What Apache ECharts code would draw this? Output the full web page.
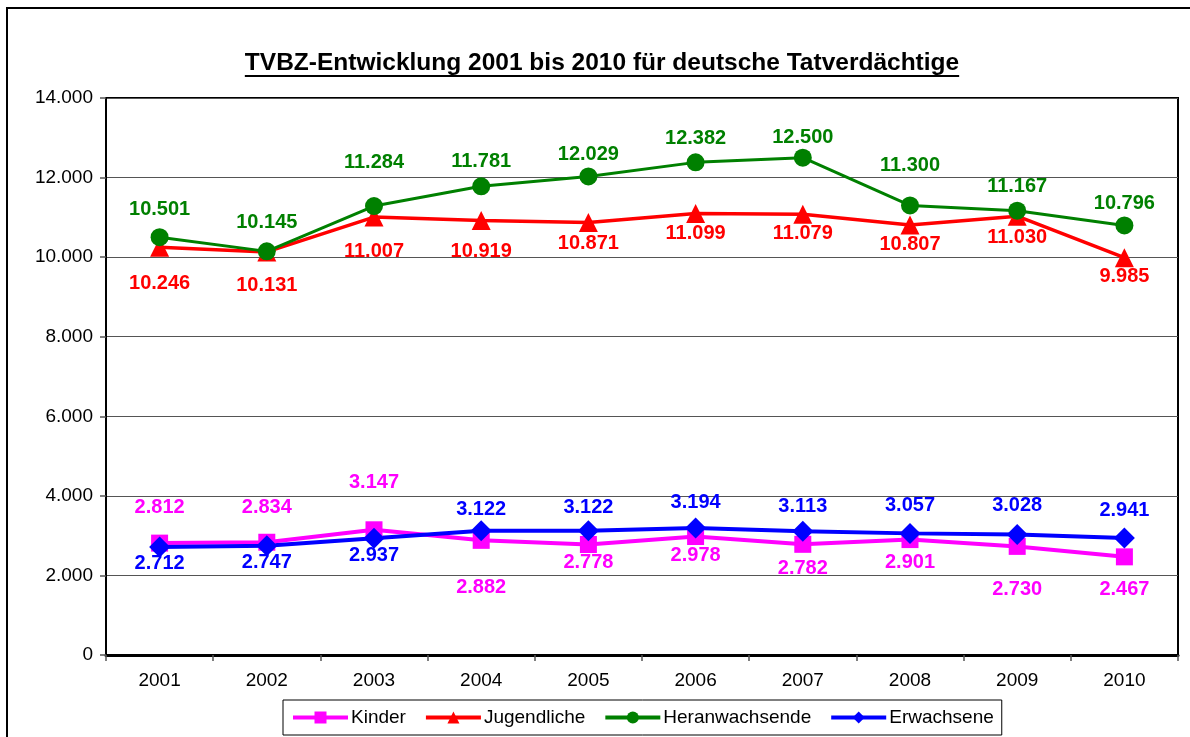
<!DOCTYPE html>
<html>
<head>
<meta charset="utf-8">
<script src="https://cdn.jsdelivr.net/npm/echarts@6/dist/echarts.min.js"></script>
<style>
html,body{margin:0;padding:0;background:#fff;}
#chart{width:1190px;height:737px;}
</style>
</head>
<body>
<div id="chart"></div>
<script>
// ---- data ----
const years = ['2001','2002','2003','2004','2005','2006','2007','2008','2009','2010'];
const kinder = [2812, 2834, 3147, 2882, 2778, 2978, 2782, 2901, 2730, 2467];
const jugendliche = [10246, 10131, 11007, 10919, 10871, 11099, 11079, 10807, 11030, 9985];
const heranwachsende = [10501, 10145, 11284, 11781, 12029, 12382, 12500, 11300, 11167, 10796];
const erwachsene = [2712, 2747, 2937, 3122, 3122, 3194, 3113, 3057, 3028, 2941];
const seriesNames = ['Kinder', 'Jugendliche', 'Heranwachsende', 'Erwachsene'];
const titleText = 'TVBZ-Entwicklung 2001 bis 2010 für deutsche Tatverdächtige';

// label vertical offsets (styling, px)
const kinderLabelDy = [-36, -35, -47, 47, 18, 19, 24, 23, 43, 33];
const jugendLabelDy = [36, 34, 34, 31, 21, 20, 19, 19, 21, 19];
const heranLabelDy = [-28, -29, -44, -25, -22, -24, -20, -40, -24, -22];
const erwLabelDy = [16, 17, 17, -21, -23, -25, -25, -28, -29, -28];

const FONT = 'Liberation Sans, Arial, sans-serif';

function fmt(v) {
  return String(v).replace(/\B(?=(\d{3})+(?!\d))/g, '.');
}

function mkData(vals, dys) {
  return vals.map((v, i) => ({
    value: v,
    label: { offset: [0, dys[i]] }
  }));
}

function mkSeries(name, vals, dys, color, symbol, size, lw) {
  return {
    name: name,
    type: 'line',
    data: mkData(vals, dys),
    symbol: symbol,
    symbolSize: size,
    lineStyle: { color: color, width: lw },
    itemStyle: { color: color },
    emphasis: { disabled: true },
    animation: false,
    label: {
      show: true,
      position: ['50%', '50%'],
      align: 'center',
      verticalAlign: 'middle',
      formatter: p => fmt(p.value),
      color: color,
      textBorderWidth: 0,
      fontFamily: FONT,
      fontWeight: 'bold',
      fontSize: 20
    },
    z: 3
  };
}

// measure title width for underline
const TITLE_FONT = 'bold 24.5px ' + FONT;
const cv = document.createElement('canvas').getContext('2d');
cv.font = TITLE_FONT;
const titleW = cv.measureText(titleText).width;
const titleCx = 602;

const chart = echarts.init(document.getElementById('chart'), null, { renderer: 'canvas' });
chart.setOption({
  backgroundColor: '#fff',
  animation: false,
  grid: {
    left: 106, right: 12, top: 98, bottom: 82,
    show: true, borderColor: '#000', borderWidth: 2, backgroundColor: 'transparent'
  },
  xAxis: {
    type: 'category',
    data: years,
    boundaryGap: true,
    axisLine: { lineStyle: { color: '#000', width: 3 } },
    axisTick: { show: true, alignWithLabel: false, length: 6, lineStyle: { color: '#555', width: 1.5 } },
    axisLabel: { color: '#000', fontFamily: FONT, fontSize: 19, margin: 16 },
    splitLine: { show: false }
  },
  yAxis: {
    type: 'value',
    min: 0, max: 14000, interval: 2000,
    axisLine: { show: true, lineStyle: { color: '#000', width: 2 } },
    axisTick: { show: true, length: 6, lineStyle: { color: '#555', width: 1.5 } },
    axisLabel: { color: '#000', fontFamily: FONT, fontSize: 19, margin: 13, formatter: v => fmt(v) },
    splitLine: { show: true, lineStyle: { color: '#555', width: 1 } }
  },
  legend: {
    data: seriesNames,
    left: 283, top: 700,
    orient: 'horizontal',
    itemWidth: 55, itemHeight: 15, itemGap: 18,
    padding: [8, 8],
    borderColor: '#000', borderWidth: 1,
    lineStyle: { width: 4 },
    textStyle: { color: '#000', fontFamily: FONT, fontSize: 19, padding: [0, 0, 0, -2] },
    selectedMode: false
  },
  series: [
    mkSeries(seriesNames[0], kinder, kinderLabelDy, '#FF00FF', 'rect', 17, 4),
    mkSeries(seriesNames[1], jugendliche, jugendLabelDy, '#FF0000', 'triangle', 19, 3.5),
    mkSeries(seriesNames[2], heranwachsende, heranLabelDy, '#008000', 'circle', 18, 3),
    mkSeries(seriesNames[3], erwachsene, erwLabelDy, '#0000FF', 'diamond', 21, 4)
  ],
  graphic: [
    {
      type: 'rect', silent: true, z: 100,
      shape: { x: 7, y: 8, width: 1200, height: 760 },
      style: { fill: null, stroke: '#000', lineWidth: 2 }
    },
    {
      type: 'text', silent: true, z: 100,
      x: titleCx, y: 63,
      style: {
        text: titleText, fill: '#000', font: TITLE_FONT,
        align: 'center', verticalAlign: 'middle'
      }
    },
    {
      type: 'line', silent: true, z: 100,
      shape: { x1: titleCx - titleW / 2, y1: 76, x2: titleCx + titleW / 2, y2: 76 },
      style: { stroke: '#000', lineWidth: 2 }
    }
  ]
});
</script>
</body>
</html>
